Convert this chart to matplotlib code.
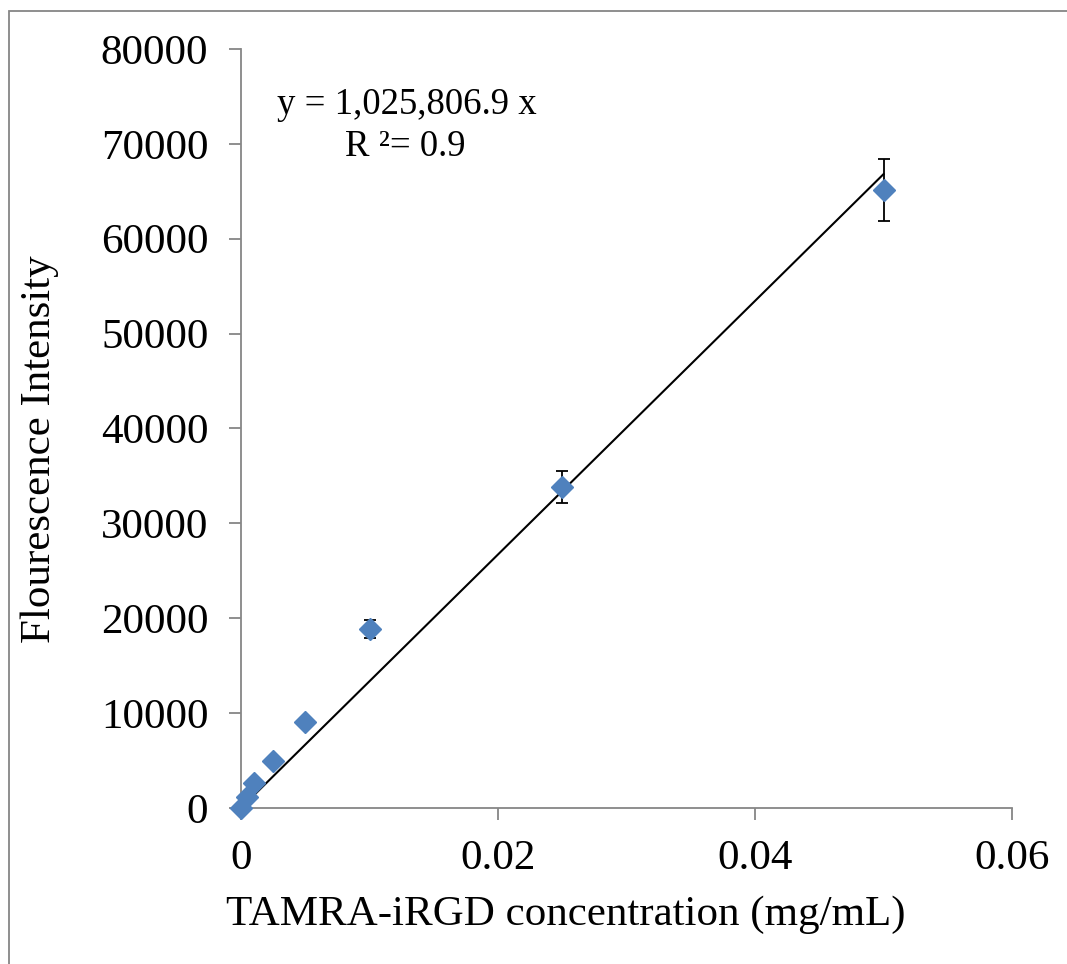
import matplotlib
matplotlib.use("Agg")
import matplotlib.pyplot as plt
import matplotlib.patches as mpatches
import numpy as np

# TAMRA-iRGD standard curve
conc = np.array([0.0, 0.0005, 0.001, 0.0025, 0.005, 0.01, 0.025, 0.05])
intensity = np.array([0, 1200, 2670, 4950, 9100, 18870, 33830, 65140])
err = np.array([0, 0, 0, 0, 0, 950, 1690, 3250])

x_ticks = [0, 0.02, 0.04, 0.06]
y_ticks = [0, 10000, 20000, 30000, 40000, 50000, 60000, 70000, 80000]

plt.rcParams["font.family"] = ["Liberation Serif", "DejaVu Serif"]

BLUE = "#4f81bd"
GREY = "#868686"
W, H = 1067, 964

fig = plt.figure(figsize=(W / 100, H / 100), dpi=100)
ax = fig.add_axes([241 / W, 1 - 808 / H, (1012 - 241) / W, (808 - 49) / H])

# outer chart-area border
fig.patches.append(mpatches.Rectangle((9 / W, -0.01), 1.1, 1 - 11 / H + 0.01,
                                      transform=fig.transFigure, fill=False,
                                      edgecolor=GREY, lw=1.3, zorder=0))

# linear trendline through origin (least squares)
slope = np.sum(conc * intensity) / np.sum(conc ** 2)
xf = np.array([0, conc.max()])
ax.plot(xf, slope * xf, color="black", lw=1.5, zorder=3)

mask = err > 0
ax.errorbar(conc[mask], intensity[mask], yerr=err[mask], fmt="none",
            ecolor="black", elinewidth=1.3, capsize=4.5, capthick=1.3, zorder=2)
ax.plot(conc, intensity, linestyle="none", marker="D", markersize=11,
        color=BLUE, markeredgecolor=BLUE, zorder=4, clip_on=False)

ax.set_xlim(0, 0.06)
ax.set_ylim(0, 80000)
ax.set_xticks(x_ticks)
ax.set_xticklabels(["0", "0.02", "0.04", "0.06"])
ax.set_yticks(y_ticks)
ax.set_yticklabels([str(v) for v in y_ticks])

for side in ("top", "right"):
    ax.spines[side].set_visible(False)
for side in ("left", "bottom"):
    ax.spines[side].set_color(GREY)
    ax.spines[side].set_linewidth(1.3)
ax.tick_params(axis="both", direction="out", length=8.5, width=1.3,
               color=GREY, labelsize=31)
ax.tick_params(axis="y", pad=15)
ax.tick_params(axis="x", pad=14)

fig.text(566 / W, 1 - 915 / H, "TAMRA-iRGD concentration (mg/mL)",
         fontsize=31, ha="center", va="center")
fig.text(40 / W, 1 - 449 / H, "Flourescence Intensity",
         fontsize=31, ha="center", va="center", rotation=90)

fig.text(277 / W, 1 - 105 / H, "y = 1,025,806.9 x",
         fontsize=26.5, ha="left", va="center")
fig.text(345 / W, 1 - 147 / H, "R ²= 0.9",
         fontsize=26.5, ha="left", va="center")

fig.savefig("out.png", dpi=100, facecolor="white")
